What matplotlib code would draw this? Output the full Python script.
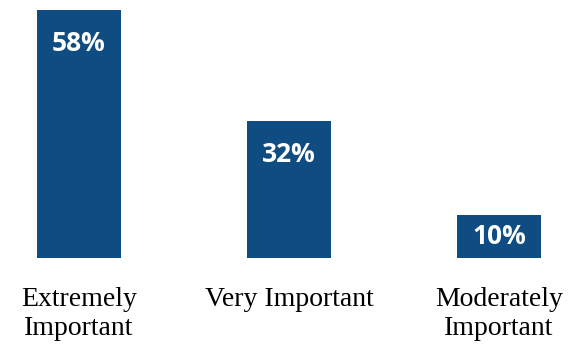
import matplotlib.pyplot as plt

categories = ['Extremely\nImportant', 'Very Important', 'Moderately\nImportant']
values = [58, 32, 10]
bar_color = '#0f4c81'

fig = plt.figure(figsize=(5.87, 3.45), dpi=100)
# baseline sits 87 px from the bottom, ~4.28 px per percent
ax = fig.add_axes([0, 87 / 345, 1, 258 / 345])

x = range(len(values))
ax.bar(x, values, width=0.4, color=bar_color)

for i, v in enumerate(values):
    y = max(v - 7.9, v / 2)
    ax.text(i, y, f'{v}%', ha='center', va='center', color='white',
            fontsize=19, fontweight='bold', family='Open Sans')

ax.set_xlim(-79 / 210, (587 - 79) / 210)
ax.set_ylim(0, 258 / 4.28)
ax.set_xticks(list(x))
ax.set_xticklabels(categories, family='Liberation Serif', fontsize=20,
                   linespacing=1.2)
ax.tick_params(axis='x', length=0, pad=21)
ax.set_yticks([])
for s in ax.spines.values():
    s.set_visible(False)

fig.savefig('out.png', dpi=100)
